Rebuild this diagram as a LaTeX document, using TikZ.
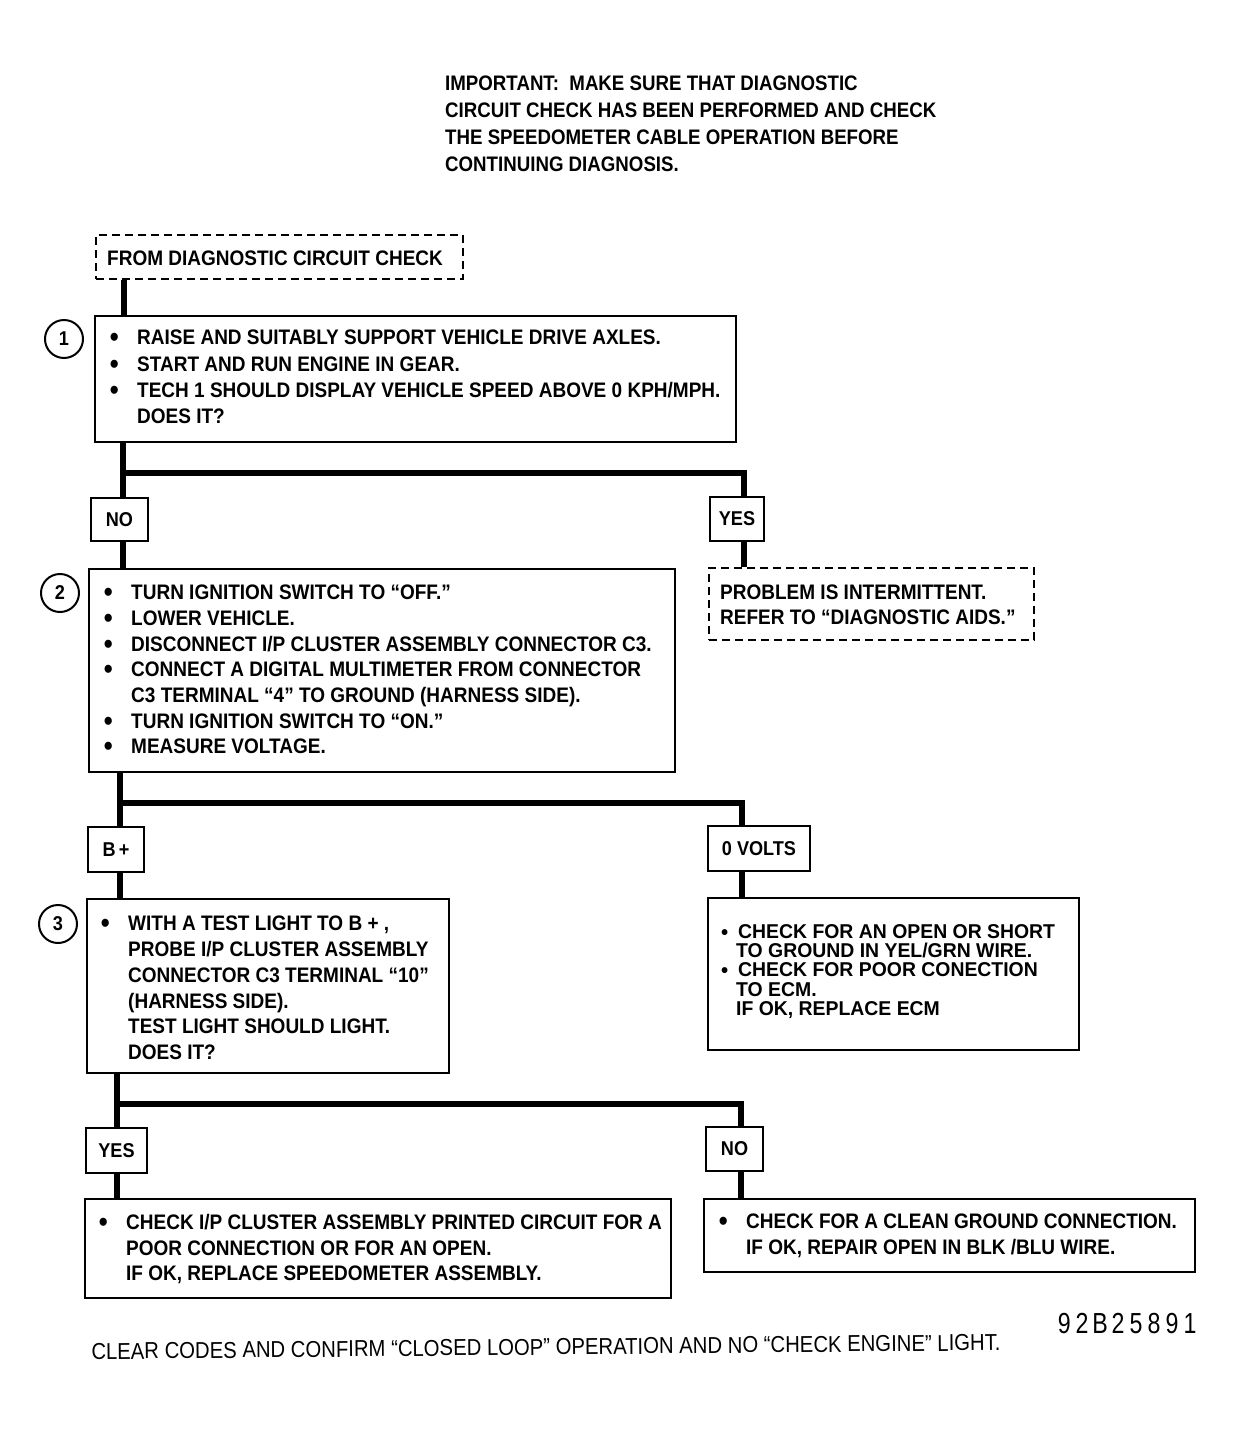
\documentclass[tikz,border=0pt]{standalone}
\usepackage{fontspec}
\newfontfamily\fb[FakeStretch=0.905]{Liberation Sans}
\newfontfamily\fimp[FakeStretch=0.89]{Liberation Sans}
\newfontfamily\fc[FakeStretch=0.97]{Liberation Sans}
\newfontfamily\ff[FakeStretch=0.882]{Liberation Sans}
\newfontfamily\fd[FakeStretch=0.8]{Liberation Sans}
\newcommand\Zs{\rule{0pt}{20pt}}
\newcommand\bul{\makebox[0pt][r]{\raisebox{-2pt}[0pt][0pt]{\fontsize{28}{26}\selectfont •}\hspace{18.5pt}}}
\newcommand\bulc{\makebox[0pt][r]{\raisebox{-1pt}[0pt][0pt]{\fontsize{21}{19}\selectfont •}\hspace{10pt}}}
\newcommand\dg[1]{\makebox[18pt]{#1}}
\begin{document}
\begin{tikzpicture}[x=1pt,y=-1pt,
  box/.style={draw, line width=2pt, inner sep=0pt, anchor=north west},
  dbox/.style={box, dash pattern=on 8pt off 5pt},
  lbl/.style={box, font=\fb\bfseries\fontsize{20}{24}\selectfont},
  conn/.style={line width=6pt, line join=miter},
  txt/.style={inner sep=0pt, align=left, anchor=north west, font=\fb\bfseries\fontsize{21}{26}\selectfont},
  num/.style={circle, draw, line width=2pt, minimum size=38pt, inner sep=0pt, font=\fb\bfseries\fontsize{20}{24}\selectfont}]
\useasboundingbox (0,0) rectangle (1234,1435);

% header note
\node[txt, font=\fimp\bfseries\fontsize{21}{27}\selectfont] (imp) at (445,70.5)
 {\Zs IMPORTANT:\ \ MAKE SURE THAT DIAGNOSTIC\\
  CIRCUIT CHECK HAS BEEN PERFORMED AND CHECK\\
  THE SPEEDOMETER CABLE OPERATION BEFORE\\
  CONTINUING DIAGNOSIS.};

% boxes
\node[dbox, minimum width=367pt, minimum height=44pt] (d1) at (95,234) {};
\node[box, minimum width=641pt, minimum height=126pt] (b1) at (94,315) {};
\node[lbl, minimum width=57pt, minimum height=43pt] (no1) at (90,497) {NO};
\node[lbl, minimum width=54pt, minimum height=44pt] (yes1) at (709,496) {YES};
\node[box, minimum width=586pt, minimum height=203pt] (b2) at (88,568) {};
\node[dbox, minimum width=325pt, minimum height=72pt] (d2) at (708,567) {};
\node[lbl, minimum width=56pt, minimum height=45pt] (bp) at (87,826) {B\,+};
\node[lbl, minimum width=102pt, minimum height=45pt] (v0) at (707,825) {0 VOLTS};
\node[box, minimum width=362pt, minimum height=174pt] (b3) at (86,898) {};
\node[box, minimum width=371pt, minimum height=152pt] (r0) at (707,897) {};
\node[lbl, minimum width=61pt, minimum height=45pt] (yes2) at (85,1127) {YES};
\node[lbl, minimum width=57pt, minimum height=44pt] (no2) at (705,1126) {NO};
\node[box, minimum width=586pt, minimum height=99pt] (r1) at (84,1198) {};
\node[box, minimum width=491pt, minimum height=73pt] (r2) at (703,1198) {};

% step numbers
\node[num] (c1) at (64,339) {1};
\node[num] (c2) at (60,593) {2};
\node[num] (c3) at (58,924) {3};

% texts
\node[txt] (t0) at (107,245.5) {\Zs FROM DIAGNOSTIC CIRCUIT CHECK};
\node[txt, font=\fb\bfseries\fontsize{21}{26.3}\selectfont] (t1) at (137,324.5)
 {\Zs\bul RAISE AND SUITABLY SUPPORT VEHICLE DRIVE AXLES.\\
  \bul START AND RUN ENGINE IN GEAR.\\
  \bul TECH 1 SHOULD DISPLAY VEHICLE SPEED ABOVE 0 KPH/MPH.\\
  DOES IT?};
\node[txt, font=\fb\bfseries\fontsize{21}{25.7}\selectfont] (t2) at (131,579.5)
 {\Zs\bul TURN IGNITION SWITCH TO “OFF.”\\
  \bul LOWER VEHICLE.\\
  \bul DISCONNECT I/P CLUSTER ASSEMBLY CONNECTOR C3.\\
  \bul CONNECT A DIGITAL MULTIMETER FROM CONNECTOR\\
  C3 TERMINAL “4” TO GROUND (HARNESS SIDE).\\
  \bul TURN IGNITION SWITCH TO “ON.”\\
  \bul MEASURE VOLTAGE.};
\node[txt, font=\fb\bfseries\fontsize{21}{25}\selectfont] (td2) at (720,579.5)
 {\Zs PROBLEM IS INTERMITTENT.\\
  REFER TO “DIAGNOSTIC AIDS.”};
\node[txt, font=\fb\bfseries\fontsize{21}{25.8}\selectfont] (t3) at (128,910.5)
 {\Zs\bul WITH A TEST LIGHT TO B + ,\\
  PROBE I/P CLUSTER ASSEMBLY\\
  CONNECTOR C3 TERMINAL “10”\\
  (HARNESS SIDE).\\
  TEST LIGHT SHOULD LIGHT.\\
  DOES IT?};
\node[txt, font=\fc\bfseries\fontsize{20}{19.2}\selectfont] (tr0) at (738,918.2)
 {\Zs\bulc CHECK FOR AN OPEN OR SHORT\\
  \hspace{-2pt}TO GROUND IN YEL/GRN WIRE.\\
  \bulc CHECK FOR POOR CONECTION\\
  \hspace{-2pt}TO ECM.\\
  \hspace{-2pt}IF OK, REPLACE ECM};
\node[txt, font=\fb\bfseries\fontsize{21}{25.5}\selectfont] (tr1) at (126,1209.5)
 {\Zs\bul CHECK I/P CLUSTER ASSEMBLY PRINTED CIRCUIT FOR A\\
  POOR CONNECTION OR FOR AN OPEN.\\
  IF OK, REPLACE SPEEDOMETER ASSEMBLY.};
\node[txt, font=\fb\bfseries\fontsize{21}{26}\selectfont] (tr2) at (746,1208.5)
 {\Zs\bul CHECK FOR A CLEAN GROUND CONNECTION.\\
  IF OK, REPAIR OPEN IN BLK /BLU WIRE.};

\node[inner sep=0pt, anchor=west, font=\fd\fontsize{29}{30}\selectfont] (code) at (1055,1323)
 {\dg9\dg2\dg B\dg2\dg5\dg8\dg9\dg1};
\node[inner sep=0pt, rotate=0.57, font=\ff\fontsize{23}{26}\selectfont] (foot) at (546,1347)
 {CLEAR CODES AND CONFIRM “CLOSED LOOP” OPERATION AND NO “CHECK ENGINE” LIGHT.};

% junction points
\coordinate (j0) at (124,0);
\coordinate (j1) at (123,473);
\coordinate (j1r) at (744,473);
\coordinate (j2) at (119.5,803);
\coordinate (j2r) at (741.5,803);
\coordinate (j3) at (117,1104);
\coordinate (j3r) at (740.5,1104);

% connectors
\draw[conn] (d1.south -| j0) -- (b1.north -| j0);
\draw[conn] (b1.south -| j1) -- (no1.north -| j1);
\draw[conn] (j1) -- (j1r) -- (yes1.north -| j1r);
\draw[conn] (no1.south -| j1) -- (b2.north -| j1);
\draw[conn] (yes1.south -| j1r) -- (d2.north -| j1r);

\draw[conn] (b2.south -| j2) -- (bp.north -| j2);
\draw[conn] (j2) -- (j2r) -- (v0.north -| j2r);
\draw[conn] (bp.south -| j2) -- (b3.north -| j2);
\draw[conn] (v0.south -| j2r) -- (r0.north -| j2r);

\draw[conn] (b3.south -| j3) -- (yes2.north -| j3);
\draw[conn] (j3) -- (j3r) -- (no2.north -| j3r);
\draw[conn] (yes2.south -| j3) -- (r1.north -| j3);
\draw[conn] (no2.south -| j3r) -- (r2.north -| j3r);
\end{tikzpicture}
\end{document}
